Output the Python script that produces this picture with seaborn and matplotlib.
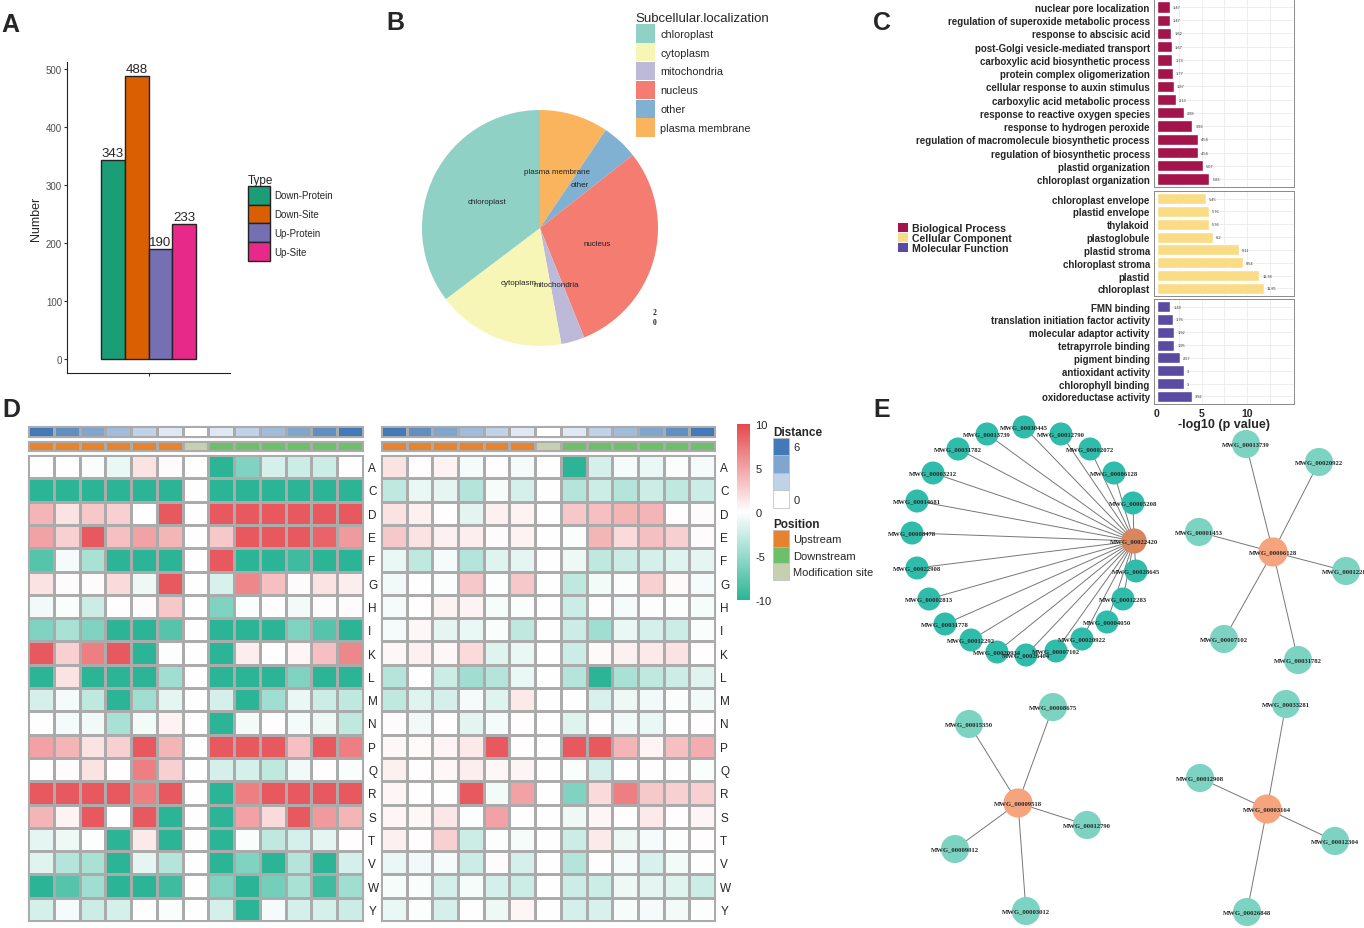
import numpy as np
import pandas as pd
import matplotlib
matplotlib.use("Agg")
import matplotlib.pyplot as plt
import seaborn as sns
from matplotlib.colors import LinearSegmentedColormap, ListedColormap
from matplotlib.patches import Patch

sns.set_style("white")
plt.rcParams["font.family"] = ["Liberation Sans", "DejaVu Sans"]
plt.rcParams["axes.unicode_minus"] = False

# ---------------- data ----------------
# A: counts per type
type_names = ["Down-Protein", "Down-Site", "Up-Protein", "Up-Site"]
type_counts = [343, 488, 190, 233]
type_colors = ["#1B9E77", "#D95F02", "#7570B3", "#E7298A"]

# B: subcellular localization (share, %), clockwise from top
loc_names = ["plasma membrane", "other", "nucleus", "mitochondria", "cytoplasm", "chloroplast"]
loc_share = [9.4, 5.0, 29.5, 3.2, 17.6, 35.3]
loc_colors = {"chloroplast": "#8FD1C5", "cytoplasm": "#F8F6B6", "mitochondria": "#BDB9D9",
              "nucleus": "#F47C70", "other": "#80B1D3", "plasma membrane": "#FBB45E"}

# C: GO enrichment, -log10(p)
bp_terms = ["nuclear pore localization", "regulation of superoxide metabolic process",
            "response to abscisic acid", "post-Golgi vesicle-mediated transport",
            "carboxylic acid biosynthetic process", "protein complex oligomerization",
            "cellular response to auxin stimulus", "carboxylic acid metabolic process",
            "response to reactive oxygen species", "response to hydrogen peroxide",
            "regulation of macromolecule biosynthetic process", "regulation of biosynthetic process",
            "plastid organization", "chloroplast organization"]
bp_vals = [1.47, 1.47, 1.62, 1.67, 1.73, 1.77, 1.87, 2.13, 2.98, 3.93, 4.54, 4.54, 5.07, 5.83]
cc_terms = ["chloroplast envelope", "plastid envelope", "thylakoid", "plastoglobule",
            "plastid stroma", "chloroplast stroma", "plastid", "chloroplast"]
cc_vals = [5.45, 5.76, 5.76, 6.2, 9.11, 9.54, 11.38, 11.85]
mf_terms = ["FMN binding", "translation initiation factor activity", "molecular adaptor activity",
            "tetrapyrrole binding", "pigment binding", "antioxidant activity",
            "chlorophyll binding", "oxidoreductase activity"]
mf_vals = [1.49, 1.76, 1.92, 1.95, 2.57, 3, 3, 3.92]
go_colors = {"Biological Process": "#A3154A", "Cellular Component": "#FBDC86",
             "Molecular Function": "#5B4AA2"}

# D: motif heatmaps
aa_rows = list("ACDEFGHIKLMNPQRSTVWY")
positions = [-6, -5, -4, -3, -2, -1, 0, 1, 2, 3, 4, 5, 6]
distance = [6, 5, 4, 3, 2, 1, 0, 1, 2, 3, 4, 5, 6]
pos_class = ["Upstream"] * 6 + ["Modification site"] + ["Downstream"] * 6
left_vals = [
    [0, 0, -0.3, -1, 1.5, 0.2, 0, -10, -6, -2, -2.5, -2.5, 0],
    [-10, -10, -10, -10, -10, -10, 0, -10, -10, -10, -10, -10, -10],
    [4, 1.5, 3, 2.5, 0, 9, 0, 9, 9, 9, 9, 9, 9],
    [5, 2.5, 9, 3.5, 5, 4, 0, 3, 9, 9, 9, 8.5, 5.5],
    [-8, -0.5, -4, -10, -10, -10, 0, 9, -10, -10, -9, -10, -10],
    [1.5, 0.2, 0.2, 2, -0.8, 9, 0, -1.8, 6.5, 3.5, 0.2, 1.5, 1],
    [-0.7, -0.3, -2.5, 0.1, 0.2, 3, 0, -6, -0.3, 0, -0.6, 0.2, 0.2],
    [-6, -4, -6, -10, -10, -8, 0, -10, -10, -10, -6, -8, -10],
    [9, 2.5, 7, 9, -10, -0.2, 0, -10, 1, 0, 0.5, 3.5, 6.5],
    [-10, 1.5, -10, -10, -10, -4.5, 0, -10, -10, -10, -6, -10, -10],
    [-2, -0.5, -3, -10, -4.5, -1.2, 0, -2, -10, -4.5, -1, -2.5, -3],
    [0, -0.5, -0.7, -4, -0.6, 0.7, 0, -10, -0.6, 0.1, -0.5, -0.8, -3],
    [5, 4, 1.5, 2.5, 9, 4, 0, 9, 9, 9, 3.5, 9, 7],
    [0, 0.2, 1.5, 0.1, 7, 2.5, 0, -2, -2, -3, -0.7, 0.1, -0.3],
    [9, 9, 9, 9, 7, 9, 0, -10, 7, 9, 9, 9, 9],
    [4, 0.7, 9, 0, 9, -10, 0, -10, 5, 2, 9, 5.5, 4],
    [-1.2, -0.8, -0.2, -10, 1.2, -10, 0, -10, -0.3, -3, -2, -1.2, 0.1],
    [-1.5, -3.5, -4, -10, -1.2, -3.5, 0, -10, -6, -10, -3.5, -10, -2],
    [-10, -8, -4.5, -10, -10, -9, 0, -6, -10, -6.5, -4, -9, -4.5],
    [-2, -0.5, -2.5, -2, 0, -0.3, 0, -2, -10, -0.5, -2, -2, -2.5],
]
right_vals = [
    [1.5, 0.1, 0.7, -0.5, 0.1, -0.5, 0, -10, -2, -0.5, -1, -0.3, -0.5],
    [-3, -1, -1.2, -3.5, -0.4, -2, 0, -3.5, -2.5, -3.5, -2.5, -3, -2.5],
    [1.5, 0.8, 0.1, -1.3, 0.8, 0.7, 0, 3, 3.5, 4, 4, 0.1, 0.2],
    [3, 1.5, 0.8, 1, 0.2, 0.7, 0, -0.3, 4, 2, 3.5, 2.5, 0.2],
    [-1, -3, -0.5, -3.5, -1.5, -1.2, 0, -0.8, -3, -2.5, -2, -1.5, -1.2],
    [-0.7, 0, -0.3, 3, -0.2, 3, 0, -3, -0.6, -0.3, 2.5, 0.3, -0.5],
    [-0.5, 0.1, 0.7, 0.7, -0.4, -0.3, 0, -2.5, 0, -0.5, -0.2, -0.2, -0.4],
    [-0.5, 0.4, -1.2, -1, -0.3, -3, 0, -2.5, -4.5, -1, -2, -2.5, -0.3],
    [0.4, 0.8, 0.4, 2, -1.5, -1, 0, -2.5, 0.3, 0.8, 1.2, 1.5, 0.1],
    [-3.5, 0, -2.5, -4.5, -3.5, -1, 0, -3.5, -10, -4, -3, -2.5, -1.5],
    [-3, -1.5, -2, -0.5, -1.5, 1.2, 0, 0, -1.8, -0.8, -0.7, -0.3, -0.7],
    [0.2, -0.7, 0.1, -1.3, -0.5, 0.1, 0, -1.5, 0, -0.7, -1, 0, 0.1],
    [0.4, 0.3, 0.6, 1.2, 9, 0.1, 0, 9, 9, 4, 0.6, 3.5, 4.5],
    [0.8, 0.1, 0.4, 1, 0.4, 0.6, 0, -0.3, -2, 0, 0, 0, -0.3],
    [0.5, 0, 0, 9, -0.6, 5, 0, -6, 2, 7, 3, 2.5, 2.5],
    [0.5, 0.4, 1.3, -0.2, 5, 0.1, 0, -0.8, 0.5, 0.1, 1.2, 0.1, 0.6],
    [0.8, 0.1, 2.5, -2.5, -0.2, -0.4, 0, -2.5, 1.2, -0.8, -0.5, -0.2, 0.1],
    [-1, -0.7, -0.5, -2.5, 0.2, -2, 0, -3.5, 0, -0.5, -1.8, -0.6, 0],
    [-0.4, -0.3, -2, -0.4, -2, -2.5, 0, -2.5, -2.5, -0.8, -1.2, -1.5, -2.5],
    [-1, -0.2, -2, 0, -0.8, 0.5, 0, -2, -1.8, -0.4, -0.5, -0.6, -0.2],
]

# E: interaction networks (hub + leaves, layout coordinates)
net1_hub = ("MWG_00022420", 1134, 542)
net1_names = ["MWG_00030445", "MWG_00013739", "MWG_00012790", "MWG_00031782", "MWG_00002072",
              "MWG_00003212", "MWG_00006128", "MWG_00014681", "MWG_00005208", "MWG_00008478",
              "MWG_00022908", "MWG_00028645", "MWG_00002813", "MWG_00012283", "MWG_00031778",
              "MWG_00004050", "MWG_00012292", "MWG_00020922", "MWG_00020934", "MWG_00007102",
              "MWG_00026404"]
net1_x = [1024, 987, 1061, 958, 1090, 933, 1114, 917, 1133, 912, 917, 1136, 929, 1123, 945,
          1107, 971, 1082, 997, 1056, 1026]
net1_y = [428, 435, 435, 450, 450, 474, 474, 502, 504, 534, 569, 572, 600, 600, 625, 623, 641,
          640, 653, 652, 656]
net2_hub = ("MWG_00006128", 1273, 553)
net2_names = ["MWG_00013739", "MWG_00020922", "MWG_00001453", "MWG_00012283", "MWG_00007102",
              "MWG_00031782"]
net2_x = [1246, 1319, 1199, 1346, 1224, 1298]
net2_y = [445, 463, 533, 572, 640, 661]
net3_hub = ("MWG_00009518", 1018, 804)
net3_names = ["MWG_00015350", "MWG_00008675", "MWG_00012790", "MWG_00009012", "MWG_00003012"]
net3_x = [969, 1053, 1087, 955, 1026]
net3_y = [725, 708, 826, 850, 912]
net4_hub = ("MWG_00003164", 1267, 810)
net4_names = ["MWG_00033281", "MWG_00012908", "MWG_00012304", "MWG_00026848"]
net4_x = [1286, 1200, 1335, 1247]
net4_y = [705, 779, 842, 913]

# ---------------- figure ----------------
W, H = 1364, 929
fig = plt.figure(figsize=(13.64, 9.29), dpi=100)


def px_axes(x0, y0, x1, y1):
    return fig.add_axes([x0 / W, 1 - y1 / H, (x1 - x0) / W, (y1 - y0) / H])


def fx(x):
    return x / W


def fy(y):
    return 1 - y / H


# ---- E first (so panel C draws on top of it)
axE = px_axes(880, 410, 1364, 929)
axE.set_xlim(880, 1364)
axE.set_ylim(929, 410)
axE.axis("off")
nets = [(net1_hub, net1_names, net1_x, net1_y, "#2FBCAB", "#D9855E", 275, 330),
        (net2_hub, net2_names, net2_x, net2_y, "#7DD3C1", "#F5A47E", 410, 440),
        (net3_hub, net3_names, net3_x, net3_y, "#7DD3C1", "#F5A47E", 410, 440),
        (net4_hub, net4_names, net4_x, net4_y, "#7DD3C1", "#F5A47E", 410, 440)]
for hub, names, xs, ys, leaf_c, hub_c, s_leaf, s_hub in nets:
    hname, hx, hy = hub
    for x, y in zip(xs, ys):
        axE.plot([hx, x], [hy, y], color="#777777", lw=0.7, zorder=1)
    sns.scatterplot(x=xs, y=ys, s=s_leaf, color=leaf_c, edgecolor="none", ax=axE, zorder=2, legend=False)
    sns.scatterplot(x=[hx], y=[hy], s=s_hub, color=hub_c, edgecolor="none", ax=axE, zorder=2, legend=False)
    for n, x, y in zip(names + [hname], xs + [hx], ys + [hy]):
        axE.text(x, y, n, fontsize=4.8, family=["Liberation Serif", "DejaVu Serif"],
                 weight="bold", ha="center", va="center", zorder=3)

# ---- A
axA = px_axes(67, 63, 230, 374)
dfa = pd.DataFrame({"Type": type_names, "Number": type_counts, "grp": [""] * 4})
sns.barplot(data=dfa, x="grp", y="Number", hue="Type", palette=type_colors, width=0.7,
            saturation=1, edgecolor="#222222", linewidth=1.0, ax=axA, legend=False)
for c in axA.containers:
    axA.bar_label(c, fontsize=9.5, padding=0.5)
axA.set_xlim(-0.6, 0.6)
axA.set_ylim(-24.4, 512.4)
axA.set_yticks([0, 100, 200, 300, 400, 500])
axA.set_xlabel("")
axA.set_ylabel("Number", fontsize=9, labelpad=3)
axA.tick_params(axis="both", labelsize=7, labelcolor="#4D4D4D", length=2.5, color="#333333",
                direction="out", left=True, bottom=True, pad=1)
sns.despine(ax=axA)
for s in ["left", "bottom"]:
    axA.spines[s].set_color("#222222")
    axA.spines[s].set_linewidth(0.8)
fig.legend(handles=[Patch(facecolor=c, edgecolor="#222222", lw=1, label=t)
                    for t, c in zip(type_names, type_colors)],
           title="Type", loc="upper left", bbox_to_anchor=(fx(239), fy(166)), frameon=False,
           fontsize=7, title_fontsize=8.5, handlelength=2.25, handleheight=2.6,
           labelspacing=0.0, handletextpad=0.5, alignment="left")

# ---- B
axB = px_axes(422, 111, 658, 347)
wedges, texts = axB.pie(loc_share, colors=[loc_colors[n] for n in loc_names], labels=loc_names,
                        labeldistance=0.5, startangle=90, counterclock=False,
                        textprops=dict(fontsize=5.8, color="#222222"),
                        wedgeprops=dict(linewidth=0))
for t in texts:
    t.set_ha("center")
axB.set_xlim(-1, 1)
axB.set_ylim(-1, 1)
axB.set_aspect("equal")
fig.text(fx(655), fy(318), "2\n0", fontsize=5.5, family=["Liberation Serif", "DejaVu Serif"],
         weight="bold", ha="center", va="center", linespacing=1.2)
leg_order = sorted(loc_colors)
fig.legend(handles=[Patch(facecolor=loc_colors[n], edgecolor="none", label=n) for n in leg_order],
           title="Subcellular.localization", loc="upper left", bbox_to_anchor=(fx(626), fy(3)),
           frameon=False, fontsize=7.8, title_fontsize=9.5, handlelength=1.75, handleheight=2.2,
           labelspacing=0.06, handletextpad=0.5, alignment="left")

# ---- C
c_panels = [(bp_terms, bp_vals, go_colors["Biological Process"], (1154, 0, 1294, 188)),
            (cc_terms, cc_vals, go_colors["Cellular Component"], (1154, 192, 1294, 297)),
            (mf_terms, mf_vals, go_colors["Molecular Function"], (1154, 300, 1294, 405))]
for k, (terms, vals, col, box) in enumerate(c_panels):
    ax = px_axes(*box)
    sns.barplot(x=vals, y=terms, color=col, saturation=1, width=0.85, orient="h", ax=ax)
    ax.set_xlim(-0.3, 15.2)
    ax.set_ylim(len(terms) - 0.4, -0.6)
    ax.set_xticks([0, 5, 10])
    ax.set_xticks([2.5, 7.5, 12.5], minor=True)
    ax.set_axisbelow(True)
    ax.grid(which="both", axis="x", color="#EBEBEB", lw=0.6)
    ax.grid(which="major", axis="y", color="#EBEBEB", lw=0.6)
    for s in ax.spines.values():
        s.set_visible(True)
        s.set_color("#8A8A8A")
        s.set_linewidth(0.7)
    ax.tick_params(axis="y", labelsize=7.0, length=2, color="#555555", pad=1)
    for lab in ax.get_yticklabels():
        lab.set_fontweight("bold")
    ax.tick_params(axis="x", which="both", length=2, color="#555555")
    for i, v in enumerate(vals):
        ax.text(v + 0.35, i, f"{v:g}", fontsize=2.8, va="center", color="#333333")
    ax.set_ylabel("")
    if k < 2:
        ax.set_xticklabels([])
        ax.tick_params(axis="x", which="both", length=0)
    else:
        ax.tick_params(axis="x", labelsize=7.5, pad=1)
        for lab in ax.get_xticklabels():
            lab.set_fontweight("bold")
        ax.set_xlabel("-log10 (p value)", fontsize=9, weight="bold", labelpad=0)
fig.legend(handles=[Patch(facecolor=c, edgecolor="none", label=n) for n, c in go_colors.items()],
           loc="upper left", bbox_to_anchor=(fx(891), fy(217)), frameon=False,
           prop=dict(size=7.6, weight="bold"), handlelength=0.9, handleheight=0.9,
           labelspacing=0.0, handletextpad=0.4, borderpad=0.2)

# ---- D
heat_cmap = LinearSegmentedColormap.from_list("tw", ["#2BB596", "#FFFFFF", "#E5484D"])
dist_cmap = LinearSegmentedColormap.from_list("bl", ["#FFFFFF", "#4279B6"])
pos_names = ["Upstream", "Downstream", "Modification site"]
pos_colors = ["#E6832E", "#6DBF6A", "#C6D0B1"]
pos_codes = [[pos_names.index(p) for p in pos_class]]
cax = px_axes(737, 425, 750, 601)
for j, (vals, x0, x1) in enumerate([(left_vals, 28, 363), (right_vals, 381, 715)]):
    ax = px_axes(x0, 456, x1, 922)
    dfh = pd.DataFrame(vals, index=aa_rows, columns=positions)
    if j == 0:
        sns.heatmap(dfh, cmap=heat_cmap, vmin=-10, vmax=10, linewidths=0.9, linecolor="#ABABAB",
                    cbar=True, cbar_ax=cax, ax=ax)
        hm_cbar = ax.collections[0].colorbar
    else:
        sns.heatmap(dfh, cmap=heat_cmap, vmin=-10, vmax=10, linewidths=0.9, linecolor="#ABABAB",
                    cbar=False, ax=ax)
    ax.set_xticks([])
    ax.set_xlabel("")
    ax.set_ylabel("")
    ax.tick_params(axis="y", left=False, right=False, labelleft=False, labelright=True,
                   labelsize=8.5, pad=0.3)
    ax.set_yticks(np.arange(len(aa_rows)) + 0.5)
    ax.set_yticklabels(aa_rows, rotation=0)
    for s in ax.spines.values():
        s.set_visible(True)
        s.set_color("#ABABAB")
    axd = px_axes(x0, 427, x1, 438)
    sns.heatmap([distance], cmap=dist_cmap, vmin=0, vmax=6, linewidths=0.9, linecolor="#ABABAB",
                cbar=False, xticklabels=False, yticklabels=False, ax=axd)
    axp = px_axes(x0, 442, x1, 452)
    sns.heatmap(pos_codes, cmap=ListedColormap(pos_colors), vmin=-0.5, vmax=2.5, linewidths=0.9,
                linecolor="#ABABAB", cbar=False, xticklabels=False, yticklabels=False, ax=axp)
    for a in (axd, axp):
        for s in a.spines.values():
            s.set_visible(True)
            s.set_color("#ABABAB")
hm_cbar.set_ticks([-10, -5, 0, 5, 10])
hm_cbar.outline.set_visible(False)
cax.tick_params(length=0, labelsize=8, pad=4)

fig.legend(handles=[Patch(facecolor=dist_cmap(v / 6), edgecolor="#BBBBBB", lw=0.5, label=l)
                    for v, l in zip([6, 4, 2, 0], ["6", "", "", "0"])],
           title="Distance", loc="upper left", bbox_to_anchor=(fx(765), fy(419)), frameon=False,
           fontsize=8, title_fontproperties=dict(size=8.5, weight="bold"), handlelength=1.45,
           handleheight=2.05, labelspacing=0.0, handletextpad=0.4, borderpad=0.2, alignment="left")
fig.legend(handles=[Patch(facecolor=c, edgecolor="#BBBBBB", lw=0.5, label=n)
                    for n, c in zip(pos_names, pos_colors)],
           title="Position", loc="upper left", bbox_to_anchor=(fx(765), fy(511)), frameon=False,
           fontsize=8, title_fontproperties=dict(size=8.5, weight="bold"), handlelength=1.45,
           handleheight=1.95, labelspacing=0.0, handletextpad=0.4, borderpad=0.2, alignment="left")

# ---- panel letters
for letter, x, y in [("A", 1, 32), ("B", 386, 30), ("C", 873, 30), ("D", 2, 417), ("E", 873, 417)]:
    fig.text(fx(x), fy(y), letter, fontsize=18, weight="bold", ha="left", va="baseline")

fig.savefig("out.png", dpi=100)
